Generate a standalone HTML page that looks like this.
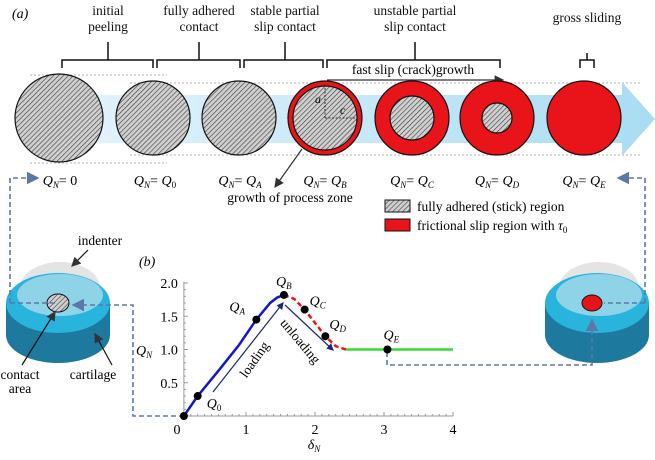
<!DOCTYPE html>
<html><head><meta charset="utf-8"><style>
body{margin:0;background:#fff}
svg{display:block;font-family:"Liberation Serif",serif}
</style></head><body>
<svg width="655" height="460" viewBox="0 0 655 460">
<defs>
<pattern id="hatch" width="3.5" height="3.5" patternUnits="userSpaceOnUse" patternTransform="rotate(45)">
<rect width="4" height="4" fill="#d0d0d0"/><line x1="0" y1="0" x2="0" y2="4" stroke="#444" stroke-width="1.3"/>
</pattern>
<linearGradient id="band" x1="0" x2="1"><stop offset="0" stop-color="#e6f5fc"/><stop offset="1" stop-color="#a9dcf3"/></linearGradient>
<marker id="ah" markerWidth="8" markerHeight="8" refX="7" refY="4" orient="auto"><path d="M0,0 L8,4 L0,8 z" fill="#333"/></marker>
<marker id="ahb" markerWidth="8" markerHeight="8" refX="7" refY="4" orient="auto"><path d="M0,0 L8,4 L0,8 z" fill="#5b78a8"/></marker>
<marker id="ahk" markerWidth="6" markerHeight="6" refX="5" refY="3" orient="auto"><path d="M0,0 L6,3 L0,6 z" fill="#1a2a6b"/></marker>
</defs>

<g>
<text x="12" y="18" font-size="14" font-style="italic">(a)</text>
<g font-size="13.5" text-anchor="middle" fill="#111">
<text x="108" y="15">initial</text><text x="108" y="31">peeling</text>
<text x="199" y="15">fully adhered</text><text x="199" y="31">contact</text>
<text x="285" y="15">stable partial</text><text x="285" y="31">slip contact</text>
<text x="415" y="15">unstable partial</text><text x="415" y="31">slip contact</text>
<text x="587" y="22">gross sliding</text>
</g>
<g fill="none" stroke="#111" stroke-width="1.5">
<path d="M62,68 V60 H108 V42 M108,60 H153 V68"/>
<path d="M157,68 V60 H199 V42 M199,60 H240 V68"/>
<path d="M244,68 V60 H285 V42 M285,60 H323 V68"/>
<path d="M327,68 V60 H415 V42 M415,60 H500 V68"/>
<path d="M580,68 V60 H587 V53 M587,60 H594 V68"/>
</g>
<g stroke="#999" stroke-dasharray="2,2" stroke-width="0.8">
<line x1="30" y1="75" x2="167" y2="75"/><line x1="30" y1="163" x2="167" y2="163"/>
<line x1="130" y1="83" x2="640" y2="83"/><line x1="130" y1="155" x2="640" y2="155"/>
</g>
<path d="M40,95 H622 V82 L655,119 L622,156 V143 H40 Z" fill="url(#band)"/>
<text x="413" y="74" font-size="13.5" text-anchor="middle">fast slip (crack)growth</text>
<line x1="327" y1="80" x2="503" y2="80" stroke="#333" stroke-width="1.2" marker-end="url(#ah)"/>
<g stroke="#111" stroke-width="1.2">
<circle cx="59" cy="118" r="44" fill="url(#hatch)"/>
<circle cx="153" cy="118" r="37" fill="url(#hatch)"/>
<circle cx="239" cy="118" r="37" fill="url(#hatch)"/>
<circle cx="325" cy="118" r="37" fill="#e8141a"/>
<circle cx="325" cy="118" r="32" fill="url(#hatch)"/>
<circle cx="412" cy="118" r="37" fill="#e8141a"/>
<circle cx="412" cy="118" r="22" fill="url(#hatch)"/>
<circle cx="497" cy="118" r="37" fill="#e8141a"/>
<circle cx="497" cy="118" r="15" fill="url(#hatch)"/>
<circle cx="584" cy="118" r="37" fill="#e8141a"/>
</g>
<g stroke="#111" stroke-width="0.8" stroke-dasharray="2,1.5" fill="none">
<line x1="325" y1="118" x2="325" y2="86"/><line x1="325" y1="118" x2="357" y2="118"/>
</g>
<text x="315" y="103" font-size="12" font-style="italic">a</text>
<text x="340" y="114" font-size="12" font-style="italic">c</text>
<line x1="302" y1="149" x2="275" y2="187" stroke="#333" stroke-width="1.2" marker-end="url(#ah)"/>
<text x="290" y="202" font-size="13.5" text-anchor="middle">growth of process zone</text>
<g font-size="14" font-style="italic" text-anchor="middle">
<text x="60" y="185">Q<tspan font-size="9" dy="3">N</tspan><tspan dy="-3" font-style="normal">= 0</tspan></text>
<text x="155" y="185">Q<tspan font-size="9" dy="3">N</tspan><tspan dy="-3" font-style="normal">= </tspan>Q<tspan font-size="9" dy="3" font-style="normal">0</tspan></text>
<text x="240" y="185">Q<tspan font-size="9" dy="3">N</tspan><tspan dy="-3" font-style="normal">= </tspan>Q<tspan font-size="9" dy="3">A</tspan></text>
<text x="325" y="185">Q<tspan font-size="9" dy="3">N</tspan><tspan dy="-3" font-style="normal">= </tspan>Q<tspan font-size="9" dy="3">B</tspan></text>
<text x="412" y="185">Q<tspan font-size="9" dy="3">N</tspan><tspan dy="-3" font-style="normal">= </tspan>Q<tspan font-size="9" dy="3">C</tspan></text>
<text x="497" y="185">Q<tspan font-size="9" dy="3">N</tspan><tspan dy="-3" font-style="normal">= </tspan>Q<tspan font-size="9" dy="3">D</tspan></text>
<text x="584" y="185">Q<tspan font-size="9" dy="3">N</tspan><tspan dy="-3" font-style="normal">= </tspan>Q<tspan font-size="9" dy="3">E</tspan></text>
</g>
<g>
<rect x="385" y="200" width="25" height="12" fill="url(#hatch)" stroke="#111"/>
<text x="417" y="211" font-size="13.5">fully adhered (stick) region</text>
<rect x="385" y="219" width="25" height="12" fill="#e8141a" stroke="#111"/>
<text x="417" y="230" font-size="13.5">frictional slip region with <tspan font-style="italic">τ</tspan><tspan font-size="9" dy="3">0</tspan></text>
</g>
</g>

<g>
<ellipse cx="60" cy="288" rx="40" ry="26" fill="#e4e4e4"/>
<path d="M6,303 V335 A52,28 0 0 0 110,335 V303 Z" fill="#1d7a9e"/>
<ellipse cx="58" cy="303" rx="52" ry="30" fill="#28b4dc"/>
<ellipse cx="60" cy="295" rx="43" ry="21" fill="#8fd3e8"/>
<ellipse cx="58" cy="303" rx="11" ry="9" fill="url(#hatch)" stroke="#111"/>
</g>
<g>
<ellipse cx="599" cy="288" rx="40" ry="26" fill="#e4e4e4"/>
<path d="M545,303 V335 A52,28 0 0 0 649,335 V303 Z" fill="#1d7a9e"/>
<ellipse cx="597" cy="303" rx="52" ry="30" fill="#28b4dc"/>
<ellipse cx="599" cy="295" rx="43" ry="21" fill="#8fd3e8"/>
<ellipse cx="592" cy="303" rx="10" ry="8" fill="#e8141a" stroke="#111"/>
</g>
<text x="100" y="245" font-size="13.5" text-anchor="middle">indenter</text>
<line x1="88" y1="250" x2="72" y2="266" stroke="#111" stroke-width="1.2" marker-end="url(#ah)"/>
<line x1="22" y1="365" x2="55" y2="312" stroke="#111" stroke-width="1.2" marker-end="url(#ah)"/>
<line x1="112" y1="365" x2="95" y2="334" stroke="#111" stroke-width="1.2" marker-end="url(#ah)"/>
<text x="20" y="379" font-size="13.5" text-anchor="middle">contact</text>
<text x="20" y="393" font-size="13.5" text-anchor="middle">area</text>
<text x="93" y="379" font-size="13.5" text-anchor="middle">cartilage</text>

<g fill="none" stroke="#5b78a8" stroke-width="1.6" stroke-dasharray="5,3">
<path d="M10,303 H56"/>
<path d="M10,303 V178 H38" marker-end="url(#ahb)"/>
<path d="M184,416 H133 V305 H73" marker-end="url(#ahb)"/>
<path d="M645,303 V178 H618" marker-end="url(#ahb)"/>
<path d="M645,303 H604"/>
<path d="M387,352 V365 H592 V320" marker-end="url(#ahb)"/>
</g>

<g>
<text x="139" y="266" font-size="14" font-style="italic">(b)</text>
<g id="axes"></g>
<g id="marks"></g>
</g>
</svg>
<script>
const xTicks=[0,1,2,3,4];
const yTicks=[0.5,1.0,1.5,2.0];
const loadX=[0.1,0.3,0.6,0.9,1.15,1.35,1.45,1.55];
const loadY=[0,0.3,0.68,1.07,1.45,1.7,1.78,1.82];
const unloadX=[1.55,1.7,1.85,2.0,2.15,2.3,2.45];
const unloadY=[1.82,1.76,1.6,1.4,1.2,1.05,1.0];
const slideX=[2.45,4.0];
const slideY=[1.0,1.0];
const pointX=[0.1,0.3,1.15,1.55,1.85,2.15,3.05];
const pointY=[0,0.3,1.45,1.82,1.6,1.2,1.0];
const pointLbl=["","0","A","B","C","D","E"];
const NS="http://www.w3.org/2000/svg";
const sx=v=>177+v*69, sy=v=>416-v*66.5;
function mk(tag,attrs,parent){const e=document.createElementNS(NS,tag);for(const k in attrs)e.setAttribute(k,attrs[k]);parent.appendChild(e);return e;}
const ax=document.getElementById('axes'), mg=document.getElementById('marks');
const x0=sx(0.1);
let a=mk('line',{x1:x0,y1:416,x2:sx(4),y2:416,stroke:'#999','stroke-width':1},ax);


a=mk('line',{x1:x0,y1:416,x2:x0,y2:sy(2.02),stroke:'#999','stroke-width':1},ax);


for(let i=1;i<=40;i++){const v=i/10;mk('line',{x1:sx(v),y1:416,x2:sx(v),y2:416-(i%10==0?4:2),stroke:'#999'},ax);}
for(let i=1;i<=20;i++){const v=i/10;mk('line',{x1:x0,y1:sy(v),x2:x0+(i%5==0?4:2),y2:sy(v),stroke:'#999'},ax);}
xTicks.forEach(v=>{const t=mk('text',{x:sx(v),y:434,'font-size':14,'text-anchor':'middle'},ax);t.textContent=v;

});
yTicks.forEach(v=>{const t=mk('text',{x:x0-6,y:sy(v)+5,'font-size':14,'text-anchor':'end'},ax);t.textContent=v.toFixed(1);

});
let yl=mk('text',{x:136,y:355,'font-size':14,'font-style':'italic'},ax);yl.innerHTML='Q<tspan font-size="9" dy="3">N</tspan>';


let xl=mk('text',{x:314,y:449,'font-size':14,'font-style':'italic','text-anchor':'middle'},ax);xl.innerHTML='δ<tspan font-size="9" dy="3">N</tspan>';


function pts(X,Y){return X.map((x,i)=>sx(x)+','+sy(Y[i])).join(' ');}
let l=mk('polyline',{points:pts(loadX,loadY),fill:'none',stroke:'#1515d0','stroke-width':2.5},mg);


l=mk('polyline',{points:pts(unloadX,unloadY),fill:'none',stroke:'#e8141a','stroke-width':2.5,'stroke-dasharray':'5,3'},mg);


l=mk('polyline',{points:pts(slideX,slideY),fill:'none',stroke:'#33dd33','stroke-width':2.5},mg);


let ar=mk('line',{x1:213,y1:392,x2:283,y2:303,stroke:'#1a2a6b','stroke-width':1.2,'marker-end':'url(#ahk)'},mg);


ar=mk('line',{x1:285,y1:305,x2:333,y2:350,stroke:'#1a2a6b','stroke-width':1.2,'marker-end':'url(#ahk)'},mg);


let tl=mk('text',{x:0,y:0,'font-size':13.5,transform:'translate(258,362) rotate(-55)','text-anchor':'middle'},mg);tl.textContent='loading';


tl=mk('text',{x:0,y:0,'font-size':13.5,transform:'translate(297,344) rotate(50)','text-anchor':'middle'},mg);tl.textContent='unloading';


const off=[[0,0],[9,12],[-27,-8],[-8,-9],[5,-4],[4,-7],[-4,-10]];
pointX.forEach((x,i)=>{const c=mk('circle',{cx:sx(x),cy:sy(pointY[i]),r:4,fill:'#000'},mg);


if(pointLbl[i]){const t=mk('text',{x:sx(x)+off[i][0],y:sy(pointY[i])+off[i][1],'font-size':14,'font-style':'italic'},mg);
t.innerHTML='Q<tspan font-size="9" dy="3"'+(pointLbl[i]==='0'?' font-style="normal"':'')+'>'+pointLbl[i]+'</tspan>';

}});
</script>
</body></html>
